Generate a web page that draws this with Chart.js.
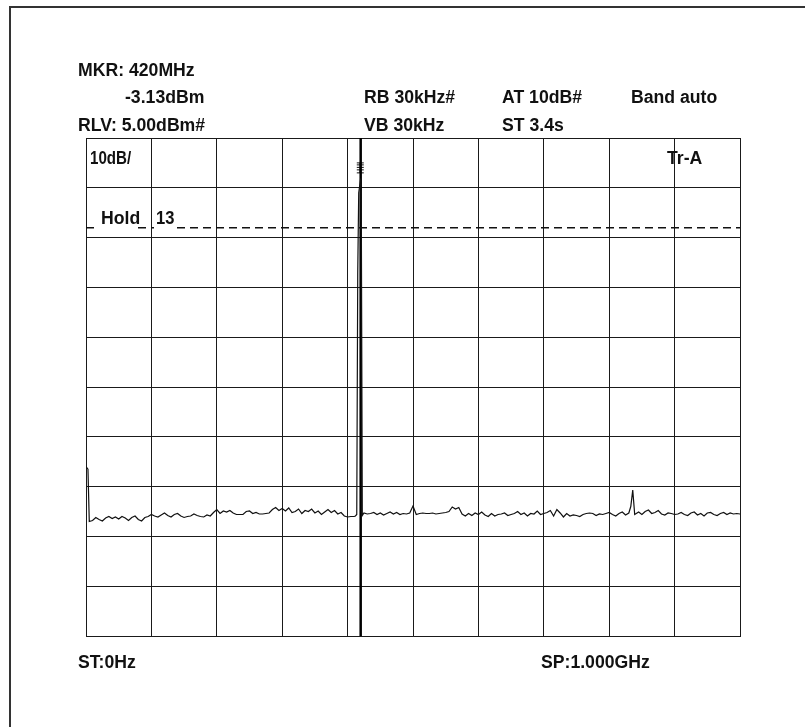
<!DOCTYPE html>
<html><head><meta charset="utf-8">
<script src="https://cdn.jsdelivr.net/npm/chart.js@4"></script>
<style>
html,body{margin:0;padding:0;background:#fff;}
#wrap{position:relative;width:805px;height:727px;overflow:hidden;background:#fff;}
#frame{position:absolute;left:9px;top:6px;right:-4px;bottom:-4px;border-top:2px solid #333;border-left:2px solid #333;}
canvas{position:absolute;left:0;top:0;}
.t{position:absolute;font-family:"Liberation Sans",Arial,sans-serif;font-weight:bold;font-size:18px;line-height:18px;white-space:nowrap;transform-origin:0 50%;color:#111;}
.mask{position:absolute;background:#fff;}
</style></head>
<body><div id="wrap"><div id="frame"></div><canvas id="c" width="805" height="727"></canvas></div>
<script>
// ---- data ----
const startMHz = 0, stopMHz = 1000;
const refLevelDbm = 5, bottomDbm = -95, dbPerDiv = 10;
const markerFreqMHz = 420, markerLevelDbm = -3.13;
const holdDbm = -13;
const markerGlyphDbm = [0, -0.4, -0.9, -1.4, -2];

const freqMHz = [
0,3,5,10,15,20,25,30,35,40,
45,50,55,60,65,70,75,80,85,90,
95,100,105,110,115,120,125,130,135,140,
145,150,155,160,165,170,175,180,185,190,
195,200,205,210,215,220,225,230,235,240,
245,250,255,260,265,270,275,280,285,290,
295,300,305,310,315,320,325,330,335,340,
345,350,355,360,365,370,375,380,385,390,
395,400,405,410,412,414,415.5,417,420,421,
422.5,425,430,435,440,445,450,455,460,465,
470,475,480,485,490,495,500,505,510,515,
520,525,530,535,540,545,550,555,560,565,
570,575,580,585,590,595,600,605,610,615,
620,625,630,635,640,645,650,655,660,665,
670,675,680,685,690,695,700,705,710,715,
720,725,730,735,740,745,750,755,760,765,
770,775,780,785,790,795,800,805,810,815,
820,825,830,833,836,839,845,850,855,860,
865,870,875,880,885,890,895,900,905,910,
915,920,925,930,935,940,945,950,955,960,
965,970,975,980,985,990,995,1000
];
const levelDbm = [
-61,-61.5,-72.0,-71.8,-71.2,-71.6,-71.9,-71.3,-71.0,-71.4,
-71.1,-71.5,-71.0,-71.3,-71.8,-71.2,-70.9,-71.6,-71.9,-71.2,
-71.0,-70.6,-70.9,-71.1,-70.7,-70.3,-70.8,-71.1,-70.6,-70.4,
-70.9,-71.2,-71.0,-70.9,-70.5,-70.8,-71.0,-71.1,-70.7,-70.9,
-70.2,-69.6,-70.4,-69.9,-70.1,-69.8,-70.3,-70.6,-70.6,-70.6,
-70.0,-69.9,-70.4,-70.2,-70.5,-70.5,-70.4,-70.3,-69.6,-69.2,
-69.8,-69.4,-69.9,-69.3,-70.2,-70.0,-69.5,-70.4,-69.8,-70.0,
-69.5,-70.3,-69.9,-70.6,-70.1,-69.6,-70.2,-69.8,-70.5,-70.2,
-70.9,-71.1,-71.0,-71.0,-70.9,-70.6,-22,-6,-3.13,-12,
-70.8,-70.3,-70.5,-70.4,-70.2,-70.6,-70.3,-70.7,-70.4,-70.1,
-70.5,-70.2,-70.6,-70.4,-70.5,-70.3,-68.9,-70.6,-70.4,-70.3,
-70.4,-70.4,-70.3,-70.5,-70.4,-70.3,-70.2,-70.0,-69.1,-69.5,
-69.2,-70.5,-70.9,-70.4,-70.8,-70.3,-70.6,-70.1,-70.7,-71.0,
-70.4,-70.9,-70.6,-70.5,-70.3,-70.8,-70.6,-70.4,-70.0,-70.6,
-70.3,-70.9,-70.4,-70.5,-69.9,-70.6,-70.4,-70.2,-69.8,-70.9,
-69.6,-70.3,-71.1,-70.4,-70.9,-70.7,-70.8,-71.0,-70.6,-70.4,
-70.3,-70.4,-70.8,-70.5,-70.6,-70.4,-70.2,-70.6,-70.9,-70.4,
-70.1,-70.7,-70.3,-69.0,-65.7,-70.6,-70.1,-70.6,-70.0,-69.7,
-70.4,-70.2,-69.8,-70.5,-70.7,-70.3,-70.4,-70.6,-70.5,-70.2,
-70.6,-70.8,-70.3,-70.1,-70.7,-70.4,-70.9,-70.3,-70.2,-70.6,
-70.8,-70.4,-70.2,-70.6,-70.3,-70.5,-70.4,-70.5
];

const headerLabels = ["MKR: 420MHz", "-3.13dBm", "RB 30kHz#", "AT 10dB#", "Band auto",
                      "RLV: 5.00dBm#", "VB 30kHz", "ST 3.4s"];
const gridLabels = ["10dB/", "Tr-A", "Hold", "13"];
const footerLabels = ["ST:0Hz", "SP:1.000GHz"];

// ---- layout (positions only: left x, cap-centre y, horizontal scale) ----
const headerPos = [[78,70,0.98],[125,97,0.98],[364,97,0.98],[502,97,0.98],[631,97,0.98],[78,125,0.98],[364,125,0.98],[502,125,0.98]];
const gridPos = [[90,158,0.84],[667,158,0.98],[101,218,0.98],[156,218,0.92]];
const footerPos = [[78,662,0.98],[541,662,0.98]];
const masks = [[95,223,42,7],[154,223,22,7]];

const wrap = document.getElementById('wrap');
masks.forEach(m => {
  const d = document.createElement('div');
  d.className = 'mask';
  d.style.left = m[0]+'px'; d.style.top = m[1]+'px'; d.style.width = m[2]+'px'; d.style.height = m[3]+'px';
  wrap.appendChild(d);
});
function addLabels(texts, pos){
  texts.forEach((s,i) => {
    const d = document.createElement('div');
    d.className = 't';
    d.textContent = s;
    d.style.left = pos[i][0]+'px';
    d.style.top = (pos[i][1]-9)+'px';
    d.style.transform = 'scaleX(' + pos[i][2] + ')';
    wrap.appendChild(d);
  });
}

const trace = freqMHz.map((f,i) => ({x:f, y:levelDbm[i]}));
const gridCol = '#1a1a1a';

const chart = new Chart(document.getElementById('c'), {
  type: 'scatter',
  data: { datasets: [
    { label:'Tr-A', data: trace, showLine:true, borderColor:'#111', borderWidth:1.2, pointRadius:0, tension:0 },
    { label:'Hold', data:[{x:startMHz,y:holdDbm},{x:stopMHz,y:holdDbm}], showLine:true, borderColor:'#111', borderWidth:1.5, borderDash:[8,5], pointRadius:0 },
    { label:'Marker', data:[{x:markerFreqMHz,y:refLevelDbm},{x:markerFreqMHz,y:bottomDbm}], showLine:true, borderColor:'#000', borderWidth:2.5, pointRadius:0 },
    { label:'Marker symbol', data: markerGlyphDbm.map(v => ({x:markerFreqMHz - 0.6, y:v})), showLine:true, borderColor:'#111', borderWidth:1, pointStyle:'line', pointRadius:3.5, pointBorderColor:'#111', pointBorderWidth:1 }
  ]},
  options: {
    responsive:false, animation:false, devicePixelRatio:1,
    layout:{ padding:{ left:86, top:138, right:65, bottom:91 } },
    plugins:{ legend:{display:false}, tooltip:{enabled:false} },
    scales:{
      x:{ type:'linear', min:startMHz, max:stopMHz,
          ticks:{ display:false, stepSize:100 },
          grid:{ color:gridCol, lineWidth:1, drawTicks:false },
          border:{ color:gridCol, width:1 } },
      y:{ type:'linear', min:bottomDbm, max:refLevelDbm,
          ticks:{ display:false, stepSize:dbPerDiv },
          grid:{ color:gridCol, lineWidth:1, drawTicks:false },
          border:{ color:gridCol, width:1 } }
    }
  }
});

addLabels(headerLabels, headerPos);
addLabels(gridLabels, gridPos);
addLabels(footerLabels, footerPos);
</script>
</body></html>
